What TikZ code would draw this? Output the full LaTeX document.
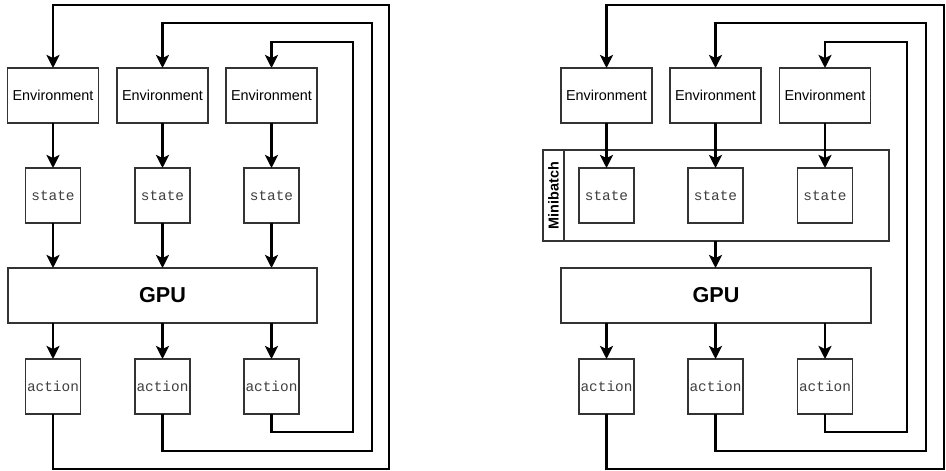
\documentclass[tikz,border=0pt]{standalone}
\usepackage{fontspec}
\setmainfont{Liberation Sans}
\setmonofont{Liberation Mono}
\usetikzlibrary{arrows.meta}
\begin{document}
\begin{tikzpicture}[x=1pt,y=-1pt,
  box/.style={draw=black!80,line width=1.1pt,fill=white,rectangle,inner sep=0pt,outer sep=0pt},
  envbox/.style={box,minimum width=91pt,minimum height=55pt,font=\fontsize{14.4}{17}\selectfont},
  smallbox/.style={box,minimum width=55pt,minimum height=55pt,font=\ttfamily\fontsize{14.4}{17}\selectfont,text=black!75},
  gpubox/.style={box,minimum height=55pt,font=\bfseries\fontsize{21.6}{25}\selectfont},
  conn/.style={line width=2.6pt,black},
  arr/.style={conn,-{Stealth[length=13pt,width=13pt,inset=3pt]}}
]
\useasboundingbox (0,0) rectangle (946,471);

% ---------------- Left diagram ----------------
\node[envbox] (le1) at (53,95.5) {Environment};
\node[envbox] (le2) at (162.5,95.5) {Environment};
\node[envbox] (le3) at (271.5,95.5) {Environment};
\node[smallbox] (ls1) at (53,195.5) {state};
\node[smallbox] (ls2) at (162.5,195.5) {state};
\node[smallbox] (ls3) at (271.5,195.5) {state};
\node[gpubox,minimum width=309pt] (lg) at (162.5,295.5) {GPU};
\node[smallbox] (la1) at (53,386.5) {action};
\node[smallbox] (la2) at (162.5,386.5) {action};
\node[smallbox] (la3) at (271.5,386.5) {action};

\foreach \i in {1,2,3}{
  \draw[arr] (le\i.south) -- (ls\i.north);
  \draw[arr] (ls\i.south) -- (lg.north -| ls\i.south);
  \draw[arr] (lg.south -| la\i.north) -- (la\i.north);
}
\coordinate (lb1) at (389,469); \coordinate (lt1) at (389,5);
\coordinate (lb2) at (372,451); \coordinate (lt2) at (372,23);
\coordinate (lb3) at (353,432); \coordinate (lt3) at (353,42);
\foreach \i in {1,2,3}{
  \draw[arr] (la\i.south) |- (lb\i) -- (lt\i) -| (le\i.north);
}

% ---------------- Right diagram ----------------
\node[envbox] (re1) at (606.5,95.5) {Environment};
\node[envbox] (re2) at (715.5,95.5) {Environment};
\node[envbox] (re3) at (825,95.5) {Environment};
\node[box,minimum width=346pt,minimum height=91pt] (mb) at (716,195.5) {};
\node[box,minimum width=21pt,minimum height=91pt] (mbl) at (553.5,195.5) {};
\node[rotate=90,font=\bfseries\fontsize{14.4}{17}\selectfont] (mbt) at (mbl.center) {Minibatch};
\node[smallbox] (rs1) at (606.5,195.5) {state};
\node[smallbox] (rs2) at (715.5,195.5) {state};
\node[smallbox] (rs3) at (825,195.5) {state};
\node[gpubox,minimum width=310pt] (rg) at (716,295.5) {GPU};
\node[smallbox] (ra1) at (606.5,386.5) {action};
\node[smallbox] (ra2) at (715.5,386.5) {action};
\node[smallbox] (ra3) at (825,386.5) {action};

\foreach \i in {1,2,3}{
  \draw[arr] (re\i.south) -- (rs\i.north);
  \draw[arr] (rg.south -| ra\i.north) -- (ra\i.north);
}
\draw[arr] (mb.south -| rs2.south) -- (rg.north -| rs2.south);
\coordinate (rb1) at (944,469); \coordinate (rt1) at (944,5);
\coordinate (rb2) at (926,451); \coordinate (rt2) at (926,23);
\coordinate (rb3) at (907,432); \coordinate (rt3) at (907,42);
\foreach \i in {1,2,3}{
  \draw[arr] (ra\i.south) |- (rb\i) -- (rt\i) -| (re\i.north);
}
\end{tikzpicture}
\end{document}
